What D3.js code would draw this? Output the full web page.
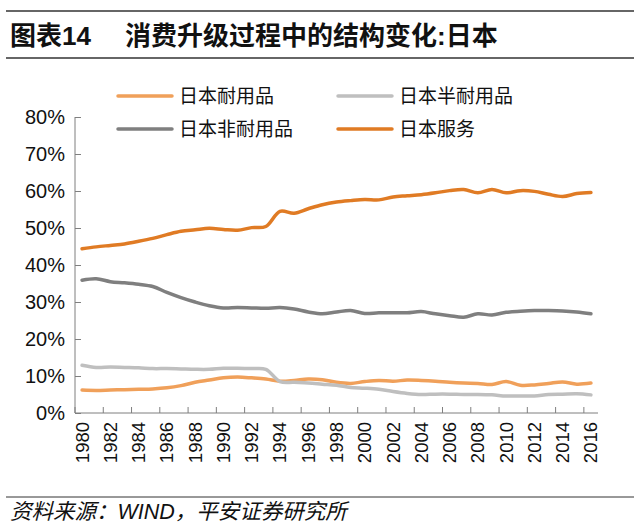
<!DOCTYPE html>
<html><head><meta charset="utf-8">
<script src="https://cdn.jsdelivr.net/npm/d3@7"></script>
<style>
html,body{margin:0;padding:0;background:#fff;}
text{font-family:"Liberation Sans","Noto Sans CJK SC",sans-serif;}
</style></head>
<body><svg id="chart" width="640" height="524"></svg>
<script>
const years = d3.range(1980, 2017);
const durables = [6.2,6.1,6.2,6.3,6.4,6.5,6.8,7.4,8.3,8.9,9.5,9.7,9.5,9.2,8.6,8.8,9.2,9.0,8.3,8.0,8.5,8.8,8.6,8.9,8.8,8.6,8.3,8.1,8.0,7.7,8.5,7.5,7.6,8.0,8.4,7.8,8.1];
const semiDurables = [12.9,12.3,12.4,12.3,12.2,12.0,12.0,11.9,11.8,11.8,12.1,12.1,12.0,11.8,8.5,8.3,8.1,7.8,7.5,6.9,6.7,6.4,5.8,5.3,5.0,5.1,5.1,5.0,5.0,4.9,4.6,4.6,4.6,5.0,5.1,5.2,4.9];
const nonDurables = [35.9,36.3,35.5,35.2,34.8,34.2,32.6,31.2,30.0,29.0,28.4,28.5,28.4,28.3,28.5,28.1,27.3,26.8,27.3,27.7,26.9,27.1,27.1,27.1,27.4,26.8,26.3,25.9,26.8,26.5,27.2,27.5,27.7,27.7,27.6,27.3,26.8];
const services = [44.4,44.9,45.3,45.7,46.4,47.2,48.2,49.1,49.5,49.9,49.6,49.4,50.1,50.4,54.5,54.0,55.2,56.3,57.0,57.4,57.7,57.6,58.4,58.7,59.0,59.5,60.1,60.4,59.5,60.4,59.5,60.1,59.9,59.1,58.5,59.3,59.6];
const seriesNames = ["日本耐用品","日本半耐用品","日本非耐用品","日本服务"];
const seriesColors = ["#F0A05A","#BFBFBF","#7F7F7F","#E07B24"];
const yTicks = [0,10,20,30,40,50,60,70,80];
const xTickLabels = d3.range(1980, 2017, 2);
const titleNo = "图表14";
const titleText = "消费升级过程中的结构变化:日本";
const sourceText = "资料来源：WIND，平安证券研究所";

const svg = d3.select("#chart");

// title
svg.append("line").attr("x1",6).attr("x2",634).attr("y1",11).attr("y2",11).attr("stroke","#333").attr("stroke-width",1.5);
svg.append("line").attr("x1",6).attr("x2",634).attr("y1",58).attr("y2",58).attr("stroke","#333").attr("stroke-width",1.5);
svg.append("text").attr("x",10).attr("y",45).attr("font-size",26).attr("font-weight","bold").attr("fill","#111").text(titleNo);
svg.append("text").attr("x",125).attr("y",45).attr("font-size",26).attr("font-weight","bold").attr("fill","#111").text(titleText);

// scales
const x = d3.scaleBand().domain(years).range([75,598]);
const y = d3.scaleLinear().domain([0,80]).range([413,117]);
const cx = d => x(d) + x.bandwidth()/2;

const axisColor = "#7f7f7f";
// y axis
const gy = svg.append("g").attr("transform","translate(75,0)")
  .call(d3.axisLeft(y).tickValues(yTicks).tickSize(-6).tickPadding(10).tickFormat(d => d + "%"));
gy.select(".domain").attr("stroke",axisColor).attr("d","M0,117V413");
gy.selectAll(".tick line").attr("stroke",axisColor);
gy.selectAll(".tick text").attr("font-size",20).attr("fill","#111").attr("font-family","Liberation Sans");

// x axis
const gx = svg.append("g").attr("transform","translate(0,413)")
  .call(d3.axisBottom(x).tickValues(xTickLabels).tickSize(0).tickFormat(d => d));
gx.select(".domain").attr("stroke",axisColor).attr("d","M75,0H598");
gx.selectAll(".tick text").attr("font-size",18.5).attr("fill","#111").attr("font-family","Liberation Sans")
  .attr("transform","rotate(-90)").attr("text-anchor","end").attr("dx","-9").attr("dy","0.35em").attr("x",0).attr("y",0);
// boundary ticks every 2 categories
const boundaries = years.filter((d,i) => i % 2 === 0 && i > 0).map(d => x(d));
svg.append("g").selectAll("line").data([x(1980)].concat(boundaries)).join("line")
  .attr("x1",d=>d).attr("x2",d=>d).attr("y1",413).attr("y2",407).attr("stroke",axisColor);

// lines
const allSeries = [durables, semiDurables, nonDurables, services];
const line = d3.line().x((d,i)=>cx(years[i])).y(d=>y(d)).curve(d3.curveCatmullRom.alpha(0.5));
svg.append("g").selectAll("path").data(allSeries).join("path")
  .attr("d", d => line(d)).attr("fill","none")
  .attr("stroke",(d,i)=>seriesColors[i]).attr("stroke-width",3.5)
  .attr("stroke-linejoin","round").attr("stroke-linecap","round");

// legend
const legendPos = [[118,96],[338,96],[118,129],[338,129]];
const lg = svg.append("g").selectAll("g").data(seriesNames).join("g")
  .attr("transform",(d,i)=>`translate(${legendPos[i][0]},${legendPos[i][1]})`);
lg.append("line").attr("x1",0).attr("x2",54).attr("y1",0).attr("y2",0)
  .attr("stroke",(d,i)=>seriesColors[i]).attr("stroke-width",3.5).attr("stroke-linecap","round");
lg.append("text").attr("x",61).attr("y",0).attr("dy","0.35em").attr("font-size",19).attr("fill","#111").text(d=>d);

// footer
svg.append("line").attr("x1",6).attr("x2",634).attr("y1",497).attr("y2",497).attr("stroke","#333").attr("stroke-width",1);
svg.append("text").attr("x",10).attr("y",519).attr("font-size",21.5).attr("font-style","italic").attr("fill","#111").text(sourceText);
</script></body></html>
